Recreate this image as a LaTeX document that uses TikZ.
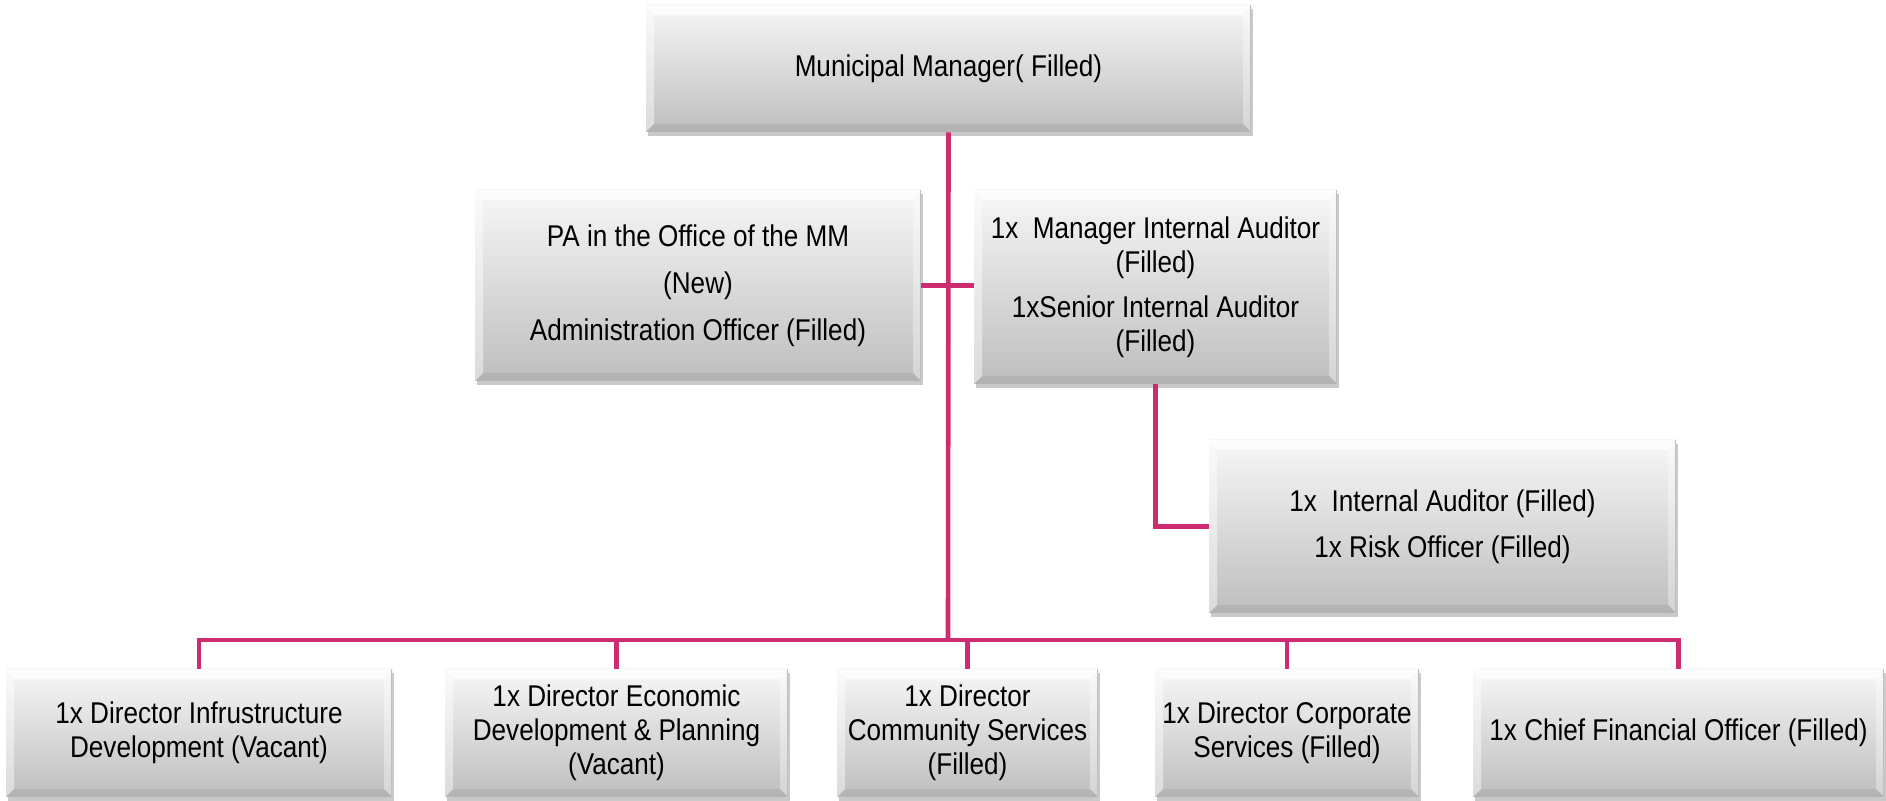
\documentclass[tikz,border=0pt]{standalone}
\usepackage{fontspec}
\setmainfont{Liberation Sans}[FakeStretch=0.87]
\usetikzlibrary{shadows}
\definecolor{pinkline}{RGB}{205,45,112}
\definecolor{boxtop}{RGB}{247,247,247}
\definecolor{boxbot}{RGB}{190,190,190}
\tikzset{
  orgbox/.style={rectangle, inner sep=2pt, align=center,
    top color=boxtop, bottom color=boxbot, draw=none,
    drop shadow={shadow xshift=1.2pt, shadow yshift=-2.2pt, opacity=0.35, fill=black!60},
    font=\fontsize{15}{17}\selectfont,
    path picture={
      \path (path picture bounding box.north west) coordinate (bNW)
            (path picture bounding box.north east) coordinate (bNE)
            (path picture bounding box.south west) coordinate (bSW)
            (path picture bounding box.south east) coordinate (bSE);
      \fill[white,opacity=0.75] (bNW) -- (bNE) -- ([shift={(-4pt,-5pt)}]bNE) -- ([shift={(4pt,-5pt)}]bNW) -- cycle;
      \fill[white,opacity=0.45] (bNW) -- ([shift={(4pt,-5pt)}]bNW) -- ([shift={(4pt,4pt)}]bSW) -- (bSW) -- cycle;
      \fill[white,opacity=0.35] (bNE) -- ([shift={(-4pt,-5pt)}]bNE) -- ([shift={(-4pt,4pt)}]bSE) -- (bSE) -- cycle;
      \fill[black,opacity=0.06] (bSW) -- ([shift={(4pt,4pt)}]bSW) -- ([shift={(-4pt,4pt)}]bSE) -- (bSE) -- cycle;
      \draw[black!25,line width=0.6pt] (bNE) -- (bSE);
    }},
  conn/.style={draw=pinkline, line width=2.3pt}
}
\begin{document}
\begin{tikzpicture}[x=0.5pt,y=-0.5pt]
\useasboundingbox[fill=white] (0,0) rectangle (1886,801);

\node[orgbox, minimum width=302.5pt, minimum height=63.5pt] (MM) at (948.5,68.5) {Municipal Manager( Filled)};

\node[orgbox, minimum width=223pt, minimum height=95.5pt] (PA) at (698,285.5)
  {PA in the Office of the MM\\[6.5pt] (New)\\[6.5pt] Administration Officer (Filled)};

\node[orgbox, minimum width=181.5pt, minimum height=97pt] (AUD) at (1155.5,287)
  {1x~ Manager Internal Auditor\\ (Filled)\\[5.5pt] 1xSenior Internal Auditor\\ (Filled)};

\node[orgbox, minimum width=233.5pt, minimum height=86.5pt] (IA) at (1442.5,526.5)
  {1x~ Internal Auditor (Filled)\\[6pt] 1x Risk Officer (Filled)};

\node[orgbox, minimum width=193pt, minimum height=64pt] (INF) at (199,733)
  {1x Director Infrustructure\\ Development (Vacant)};
\node[orgbox, minimum width=171.5pt, minimum height=64pt] (ECO) at (616.5,733)
  {1x Director Economic\\ Development \& Planning\\ (Vacant)};
\node[orgbox, minimum width=130.5pt, minimum height=64pt] (COM) at (967.5,733)
  {1x Director\\ Community Services\\ (Filled)};
\node[orgbox, minimum width=132pt, minimum height=64pt] (COR) at (1287,733)
  {1x Director Corporate\\ Services (Filled)};
\node[orgbox, minimum width=205.5pt, minimum height=64pt] (CFO) at (1678.5,733)
  {1x Chief Financial Officer (Filled)};

\coordinate (bus) at (948,640);
\draw[conn] (MM.south) -- (bus);
\draw[conn] (PA.east) -- (PA.east -| AUD.west);
\draw[conn] (AUD.south) |- (IA.west);
\draw[conn] (INF.north) |- (bus) -| (CFO.north);
\draw[conn] (ECO.north) -- (ECO.north |- bus);
\draw[conn] (COM.north) -- (COM.north |- bus);
\draw[conn] (COR.north) -- (COR.north |- bus);
\end{tikzpicture}
\end{document}
